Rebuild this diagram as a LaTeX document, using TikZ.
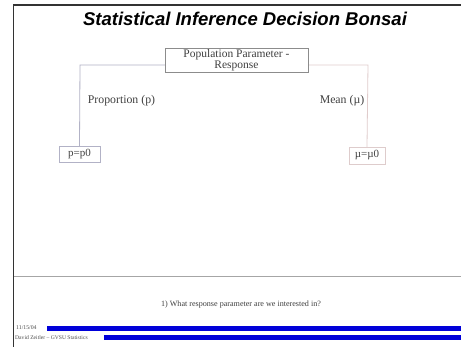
\documentclass[tikz,border=0pt]{standalone}
\usepackage{fontspec}
\setmainfont{Liberation Serif}
\newfontfamily\titlefont{Liberation Sans}
\begin{document}
\begin{tikzpicture}[x=1pt,y=-1pt,
  lbl/.style={font=\fontsize{11.8}{13}\selectfont, text=black!75, inner sep=0pt},
  ppbox/.style={draw=black!45, fill=white, align=center, font=\fontsize{11.5}{11.5}\selectfont, text=black!75, minimum width=143pt, minimum height=24pt, inner sep=1pt},
  leafp/.style={draw=blue!25!black!30, font=\fontsize{11}{12}\selectfont, text=black!75, minimum width=41pt, minimum height=16pt, inner sep=1pt},
  leafm/.style={draw=red!35!black!20, font=\fontsize{11}{12}\selectfont, text=black!75, minimum width=36pt, minimum height=17pt, inner sep=1pt},
  lconn/.style={draw=blue!25!black!30, line width=0.8pt},
  rconn/.style={draw=red!40!black!20, line width=0.8pt},
  bar/.style={fill=blue!85!black, draw=none}]
\useasboundingbox (0,0) rectangle (461,347);
\fill[white] (0,0) rectangle (461,347);
% title
\node[font=\titlefont\bfseries\itshape\fontsize{18.5}{20}\selectfont, inner sep=0pt] (title) at (245,19) {Statistical Inference Decision Bonsai};
% tree
\coordinate (lc) at (80,65);
\coordinate (rc) at (368,65);
\node[leafp] (pp0) at (79.5,154) {p=p0};
\node[leafm] (mm0) at (367,155.5) {µ=µ0};
\draw[lconn] (165,65) -- (lc) -- (pp0.north);
\draw[rconn] (308,65) -- (rc) -- (mm0.north);
\node[ppbox] (root) at (236.5,60) {Population Parameter -\\Response};
\node[lbl] (prop) at (121.5,101) {Proportion (p)};
\node[lbl] (mean) at (342,101) {Mean (µ)};
% bottom area
\draw[black!35, line width=0.8pt] (14,276) -- (461,276);
\node[font=\fontsize{8.1}{9}\selectfont, text=black!75, inner sep=0pt] (q) at (241,305) {1) What response parameter are we interested in?};
\fill[bar] (47,326) rectangle (461,331);
\fill[bar] (104,335.5) rectangle (461,340);
\node[font=\fontsize{5.8}{6}\selectfont, text=black!70, anchor=west, inner sep=0pt] (date) at (16,328) {11/15/04};
\node[font=\fontsize{5.6}{6}\selectfont, text=black!70, anchor=west, inner sep=0pt] (author) at (15,337.5) {David Zeitler -- GVSU Statistics};
% frame
\draw[black!80, line width=1.4pt] (13.5,347) -- (13.5,5) -- (461,5);
\end{tikzpicture}
\end{document}
